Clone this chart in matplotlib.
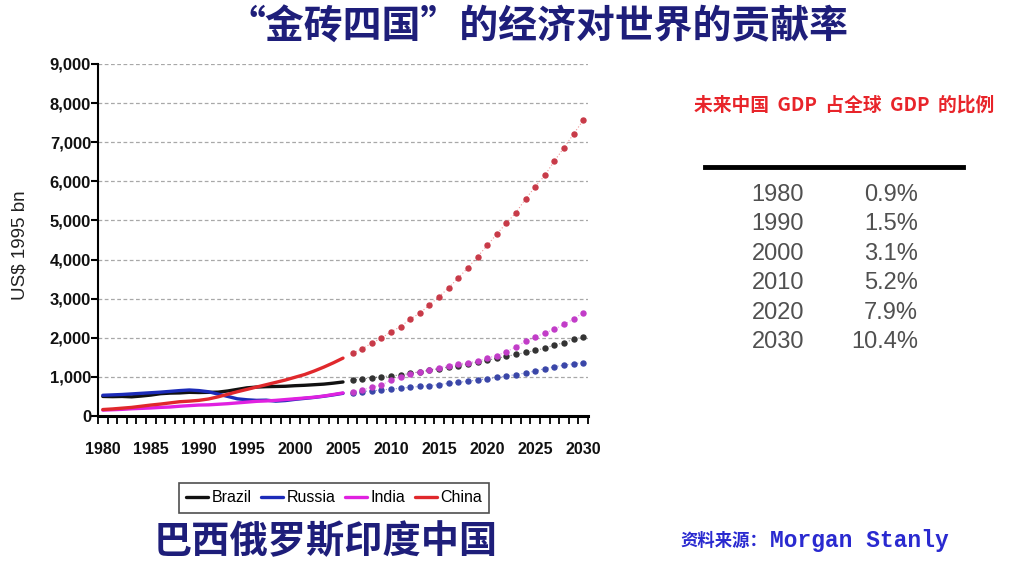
import matplotlib
matplotlib.use("Agg")
import matplotlib.pyplot as plt
from matplotlib.ticker import FixedLocator, FuncFormatter

# ---- data (US$ 1995 bn) ----
years_hist = list(range(1980, 2006))
years_proj = list(range(2006, 2031))

brazil_hist = [500, 495, 500, 490, 510, 535, 570, 585, 590, 605, 600, 605, 610,
               640, 680, 720, 740, 750, 755, 760, 775, 785, 800, 815, 840, 870]
russia_hist = [530, 540, 550, 565, 580, 595, 610, 630, 650, 665, 650, 620, 560,
               500, 440, 415, 400, 405, 380, 395, 425, 450, 475, 505, 540, 580]
india_hist = [150, 160, 170, 185, 195, 205, 220, 230, 250, 265, 280, 285, 300,
              315, 335, 355, 375, 385, 400, 420, 440, 460, 480, 510, 550, 590]
china_hist = [165, 180, 200, 220, 250, 280, 305, 335, 365, 380, 400, 435, 490,
              555, 620, 680, 740, 800, 860, 920, 990, 1060, 1150, 1250, 1360, 1480]

brazil_proj = [920, 945, 980, 1005, 1025, 1050, 1090, 1130, 1170, 1210, 1250, 1290,
               1335, 1380, 1425, 1475, 1525, 1575, 1625, 1675, 1735, 1815, 1875,
               1960, 2020]
russia_proj = [600, 625, 645, 665, 690, 710, 735, 755, 775, 805, 835, 860, 890,
               920, 950, 985, 1020, 1060, 1100, 1150, 1210, 1260, 1300, 1335, 1365]
india_proj = [620, 665, 740, 790, 920, 1005, 1075, 1135, 1175, 1235, 1290, 1330,
              1365, 1405, 1480, 1545, 1640, 1770, 1910, 2020, 2120, 2220, 2340,
              2480, 2640]
china_proj = [1610, 1720, 1865, 1990, 2155, 2285, 2480, 2630, 2840, 3050, 3280,
              3530, 3790, 4070, 4360, 4650, 4930, 5200, 5550, 5860, 6150, 6520,
              6860, 7210, 7560]

series_names = ["Brazil", "Russia", "India", "China"]
line_colors = ["#111111", "#1c2bb8", "#e021e0", "#e0282c"]
dot_colors = ["#333333", "#3a46a8", "#c23cc8", "#c83a48"]

share_years = ["1980", "1990", "2000", "2010", "2020", "2030"]
share_values = ["0.9%", "1.5%", "3.1%", "5.2%", "7.9%", "10.4%"]

title_text = "“金砖四国”的经济对世界的贡献率"
subtitle_text = "未来中国  GDP  占全球  GDP  的比例"
bottom_text = "巴西俄罗斯印度中国"
source_label = "资料来源："
source_name = "Morgan Stanly"
ylabel_text = "US$ 1995 bn"

cjk = "Noto Sans CJK SC"
sans = "Liberation Sans"

W, H = 1020, 562
fig = plt.figure(figsize=(W / 100, H / 100), dpi=100)
fig.patch.set_facecolor("white")

def fx(px):
    return px / W

def fy(py):
    return 1 - py / H

ax = fig.add_axes([fx(98), fy(416), fx(588) - fx(98), fy(64) - fy(416)])
ax.set_xlim(1979.5, 2030.5)
ax.set_ylim(0, 9000)

hist = [brazil_hist, russia_hist, india_hist, china_hist]
proj = [brazil_proj, russia_proj, india_proj, china_proj]
for name, h, p, lc, dc in zip(series_names, hist, proj, line_colors, dot_colors):
    ax.plot(years_hist, h, color=lc, lw=2.4, solid_capstyle="round",
            label=name, zorder=3)
    ax.plot(years_proj, p, linestyle=(0, (1, 2)), lw=0.8, color=lc, alpha=0.5,
            zorder=2)
    ax.plot(years_proj, p, linestyle="none", marker="o", ms=3.6,
            mfc=dc, mec=dc, zorder=3)

# axes styling
for side in ("top", "right"):
    ax.spines[side].set_visible(False)
ax.spines["left"].set_linewidth(1.5)
ax.spines["bottom"].set_linewidth(2.2)

ax.yaxis.set_major_locator(FixedLocator(range(0, 9001, 1000)))
ax.yaxis.set_major_formatter(FuncFormatter(lambda v, _: f"{int(v):,}"))
ax.tick_params(axis="y", which="major", length=5, width=1.5, pad=0,
               labelsize=12, direction="out")
ax.yaxis.grid(True, linestyle=(0, (3, 2)), color="#a8a8a8", lw=0.9)
ax.set_axisbelow(True)

ax.xaxis.set_major_locator(FixedLocator(range(1980, 2031, 5)))
ax.xaxis.set_minor_locator(FixedLocator([1979.5 + k for k in range(52)]))
ax.tick_params(axis="x", which="major", length=0, pad=19, labelsize=11.5)
ax.tick_params(axis="x", which="minor", length=6, width=1.3, direction="out")

for lab in ax.get_xticklabels() + ax.get_yticklabels():
    lab.set_fontweight("bold")
    lab.set_family(sans)
    lab.set_color("#111111")

fig.text(fx(20), fy(245), ylabel_text, rotation=90, ha="center", va="center",
         family=sans, fontsize=13.5, color="#222222")

leg = ax.legend(loc="center", bbox_to_anchor=(fx(334), fy(498)),
                bbox_transform=fig.transFigure, ncol=4, frameon=True,
                fancybox=False, handlelength=1.4, handletextpad=0.2,
                columnspacing=0.6, borderpad=0.45, borderaxespad=0,
                prop=dict(size=11.5, family=sans))
leg.get_frame().set_edgecolor("#222222")
leg.get_frame().set_linewidth(1.2)

# titles and captions
fig.text(fx(538), fy(26), title_text, ha="center", va="center",
         family=cjk, fontweight="bold", fontsize=28, color="#1e1e7a")
fig.text(fx(326), fy(542), bottom_text, ha="center", va="center",
         family=cjk, fontweight="bold", fontsize=27.5, color="#1e1e7a")
fig.text(fx(844), fy(105), subtitle_text, ha="center", va="center",
         family=[cjk, "DejaVu Sans"], fontweight="bold", fontsize=13.5,
         color="#e8242a")
fig.text(fx(680), fy(541), source_label, ha="left", va="center",
         family=cjk, fontweight="bold", fontsize=12.5, color="#2a2ad0")
fig.text(fx(770), fy(541), source_name, ha="left", va="center",
         family="Liberation Mono", fontweight="bold", fontsize=16.5,
         color="#2a2ad0")

# share table
fig.add_artist(plt.Line2D([fx(705), fx(963)], [fy(167), fy(167)],
                          color="black", lw=3.5, transform=fig.transFigure))
for i, (yr, val) in enumerate(zip(share_years, share_values)):
    ypos = fy(195 + i * 29.4)
    fig.text(fx(778), ypos, yr, ha="center", va="center",
             family=sans, fontsize=17, color="#505050")
    fig.text(fx(918), ypos, val, ha="right", va="center",
             family=sans, fontsize=17, color="#505050")

fig.savefig("out.png", dpi=100, facecolor="white")
